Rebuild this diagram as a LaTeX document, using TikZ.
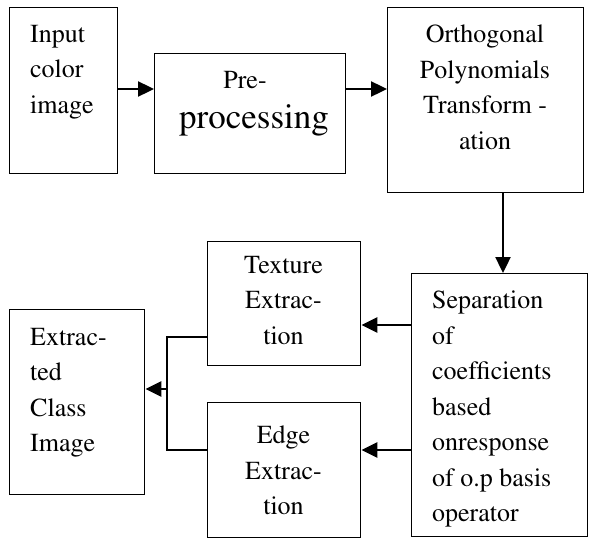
\documentclass[tikz,border=0pt]{standalone}
\usepackage[T1]{fontenc}
\usepackage{times}
\usetikzlibrary{arrows.meta}
\begin{document}
\begin{tikzpicture}[x=1pt,y=-1pt,
  box/.style={draw,line width=1.4pt,inner sep=0pt,anchor=north west},
  txt/.style={inner sep=0pt,font=\rmfamily\fontsize{26}{35.5}\selectfont},
  arr/.style={line width=2.4pt,-{Triangle[length=16pt,width=15pt]}},
  lnk/.style={line width=1.6pt}]
\useasboundingbox (0,0) rectangle (589,538);
% boxes
\node[box,minimum width=108pt,minimum height=166pt] (in) at (9,7) {};
\node[box,minimum width=191pt,minimum height=120pt] (pre) at (154,53) {};
\node[box,minimum width=196pt,minimum height=185pt] (orth) at (387,7) {};
\node[box,minimum width=176pt,minimum height=263pt] (sep) at (411,273) {};
\node[box,minimum width=153pt,minimum height=124pt] (tex) at (207,241) {};
\node[box,minimum width=153pt,minimum height=135pt] (edge) at (207,402) {};
\node[box,minimum width=135pt,minimum height=185pt] (ext) at (9,309) {};
% texts
\node[txt,align=left,anchor=north west] (tin) at (30,25) {Input\\color\\image};
\node[txt,anchor=base] (tpre1) at (245,88) {Pre-};
\node[txt,anchor=base,font=\rmfamily\fontsize{35}{40}\selectfont] (tpre2) at (254,128) {processing};
\node[txt,align=center,anchor=north] (torth) at (485,25) {Orthogonal\\Polynomials\\Transform -\\ation};
\node[txt,align=left,anchor=north west] (tsep) at (432,291) {Separation\\of\\coefficients\\based\\onresponse\\of o.p basis\\operator};
\node[txt,align=center,anchor=north] (ttex) at (283.5,256) {Texture\\Extrac-\\tion};
\node[txt,align=center,anchor=north] (tedge) at (283.5,426) {Edge\\Extrac-\\tion};
\node[txt,align=left,anchor=north west] (text) at (30,328) {Extrac-\\ted\\Class\\Image};
% connectors
\draw[arr] (in.east |- 0,89) -- (pre.west |- 0,89);
\draw[arr] (pre.east |- 0,89) -- (orth.west |- 0,89);
\draw[arr] (orth.south -| 503,0) -- (sep.north -| 503,0);
\draw[arr] (sep.west |- 0,325) -- (tex.east |- 0,325);
\draw[arr] (sep.west |- 0,450) -- (edge.east |- 0,450);
\coordinate (j) at (167,389);
\draw[lnk] (tex.west |- 0,337) -| (j);
\draw[lnk] (edge.west |- 0,450) -| (j);
\draw[arr] (j) -- (ext.east |- j);
\end{tikzpicture}
\end{document}
